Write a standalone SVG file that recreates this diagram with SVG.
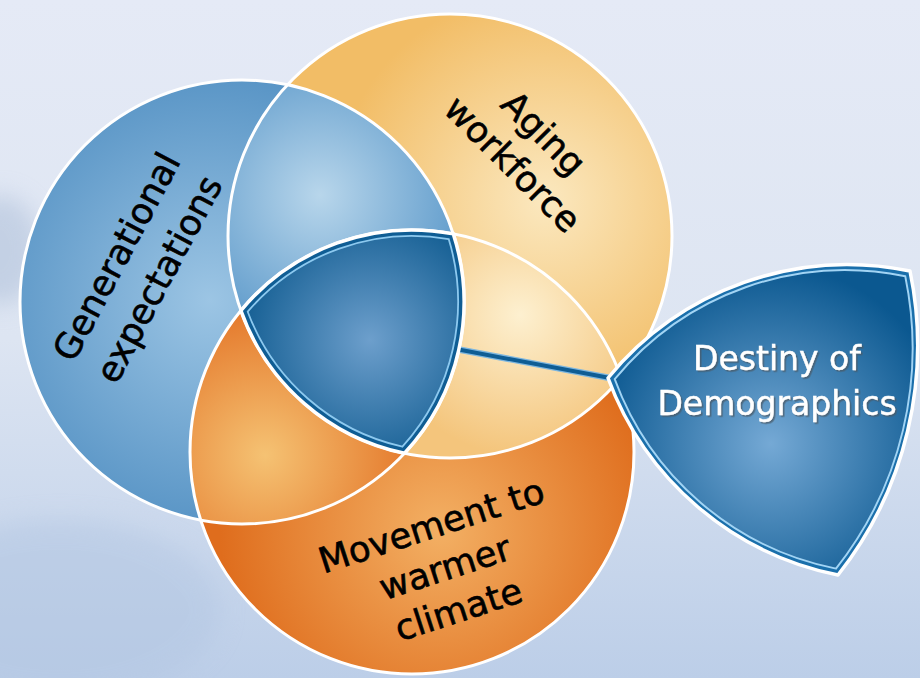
<svg xmlns="http://www.w3.org/2000/svg" width="920" height="678" viewBox="0 0 920 678">
  <style>
    .label { font-family: "DejaVu Sans", "Liberation Sans", sans-serif; font-size: 35.5px; fill: #000; stroke: #000; stroke-width: 0.6; text-anchor: middle; }
    .title { font-family: "DejaVu Sans", "Liberation Sans", sans-serif; font-size: 33px; fill: #fff; stroke: #fff; stroke-width: 0.4; text-anchor: middle; }
    .ring { fill: none; stroke: #ffffff; stroke-width: 3; }
  </style>
  <defs>
    <linearGradient id="bg" x1="0" y1="0" x2="0" y2="1">
      <stop offset="0" stop-color="#e5eaf6"/>
      <stop offset="0.5" stop-color="#dde5f2"/>
      <stop offset="1" stop-color="#bccee8"/>
    </linearGradient>
    <radialGradient id="gBlue" gradientUnits="userSpaceOnUse" cx="210" cy="300" r="240">
      <stop offset="0" stop-color="#9cc5e4"/>
      <stop offset="1" stop-color="#5592c4"/>
    </radialGradient>
    <radialGradient id="gYellow" gradientUnits="userSpaceOnUse" cx="545" cy="200" r="210">
      <stop offset="0" stop-color="#fbe8bf"/>
      <stop offset="1" stop-color="#f2bd66"/>
    </radialGradient>
    <radialGradient id="gOrange" gradientUnits="userSpaceOnUse" cx="440" cy="530" r="220">
      <stop offset="0" stop-color="#f3b064"/>
      <stop offset="1" stop-color="#df6d1d"/>
    </radialGradient>
    <radialGradient id="gBY" gradientUnits="userSpaceOnUse" cx="320" cy="195" r="150">
      <stop offset="0" stop-color="#b8d6eb"/>
      <stop offset="1" stop-color="#5f9bcb"/>
    </radialGradient>
    <radialGradient id="gYO" gradientUnits="userSpaceOnUse" cx="520" cy="315" r="140">
      <stop offset="0" stop-color="#fdf0d0"/>
      <stop offset="1" stop-color="#f4c57c"/>
    </radialGradient>
    <radialGradient id="gOB" gradientUnits="userSpaceOnUse" cx="265" cy="455" r="150">
      <stop offset="0" stop-color="#f5c273"/>
      <stop offset="1" stop-color="#e4772a"/>
    </radialGradient>
    <radialGradient id="gCore" gradientUnits="userSpaceOnUse" cx="370" cy="340" r="140">
      <stop offset="0" stop-color="#6d9fcc"/>
      <stop offset="1" stop-color="#0e5a8f"/>
    </radialGradient>
    <radialGradient id="gDestiny" gradientUnits="userSpaceOnUse" cx="770" cy="445" r="185">
      <stop offset="0" stop-color="#75a9d5"/>
      <stop offset="1" stop-color="#0b5890"/>
    </radialGradient>
    <clipPath id="clipBlue"><circle cx="242" cy="302" r="222"/></clipPath>
    <clipPath id="clipYellow"><circle cx="450" cy="236" r="222"/></clipPath>
    <clipPath id="clipOrange"><circle cx="412" cy="452" r="222"/></clipPath>
    <filter id="haze" x="-50%" y="-50%" width="200%" height="200%">
      <feGaussianBlur stdDeviation="12"/>
    </filter>
    <filter id="shade" x="-10%" y="-20%" width="120%" height="150%">
      <feDropShadow dx="1.6" dy="1.6" stdDeviation="0.6" flood-color="#4a5866" flood-opacity="0.75"/>
    </filter>
  </defs>

  <!-- sky backdrop -->
  <rect x="0" y="0" width="920" height="678" fill="url(#bg)"/>
  <ellipse cx="0" cy="250" rx="40" ry="55" fill="#a9bbd6" opacity="0.5" filter="url(#haze)"/>
  <ellipse cx="60" cy="610" rx="160" ry="90" fill="#b2c6e2" opacity="0.5" filter="url(#haze)"/>

  <!-- three overlapping circles -->
  <g id="circle-generational">
    <circle cx="242" cy="302" r="222" fill="url(#gBlue)"/>
  </g>
  <g id="circle-aging">
    <circle cx="450" cy="236" r="222" fill="url(#gYellow)"/>
  </g>
  <g id="circle-movement">
    <circle cx="412" cy="452" r="222" fill="url(#gOrange)"/>
  </g>

  <!-- pairwise overlaps -->
  <g id="overlaps">
    <g clip-path="url(#clipYellow)"><circle cx="242" cy="302" r="222" fill="url(#gBY)"/></g>
    <g clip-path="url(#clipOrange)"><circle cx="450" cy="236" r="222" fill="url(#gYO)"/></g>
    <g clip-path="url(#clipBlue)"><circle cx="412" cy="452" r="222" fill="url(#gOB)"/></g>
  </g>

  <!-- white outlines of the circles -->
  <g id="outlines">
    <circle class="ring" cx="242" cy="302" r="222"/>
    <circle class="ring" cx="450" cy="236" r="222"/>
    <circle class="ring" cx="412" cy="452" r="222"/>
  </g>

  <!-- circle labels -->
  <g transform="translate(138,268) rotate(-62)">
    <text class="label" x="0" y="-12">Generational</text>
    <text class="label" x="0" y="36">expectations</text>
  </g>
  <g transform="translate(528,149) rotate(45)">
    <text class="label" x="0" y="-10">Aging</text>
    <text class="label" x="0" y="34">workforce</text>
  </g>
  <g transform="translate(445,568) rotate(-18)">
    <text class="label" x="0" y="-32">Movement to</text>
    <text class="label" x="0" y="12">warmer</text>
    <text class="label" x="0" y="56">climate</text>
  </g>

  <!-- connector from the centre to the outcome -->
  <g id="connectors">
    <line x1="456" y1="349" x2="610" y2="378" stroke="#7db6df" stroke-width="6.5" stroke-linecap="round"/>
    <line x1="456" y1="349" x2="610" y2="378" stroke="#0f5d94" stroke-width="4" stroke-linecap="round"/>
  </g>

  <!-- shared centre of all three circles -->
  <g id="core">
    <path d="M240.9,310.6 A222,222 0 0 1 453.3,233.9 A222,222 0 0 1 404.5,453.3 A222,222 0 0 1 240.9,310.6 Z" fill="#0f5d94" stroke="#ffffff" stroke-width="3.5"/>
    <path d="M247.7,311.7 A216,216 0 0 1 448.7,239.1 A216,216 0 0 1 402.4,446.7 A216,216 0 0 1 247.7,311.7 Z" fill="url(#gCore)" stroke="#8dc9ef" stroke-width="1.8"/>
  </g>

  <!-- outcome shield -->
  <g id="destiny">
    <path d="M608,378 A310,310 0 0 1 910,271 A370,370 0 0 1 838,575 A310,310 0 0 1 608,378 Z" fill="#1a6fab" stroke="#ffffff" stroke-width="3.5" stroke-linejoin="round"/>
    <path transform="translate(785,408) scale(0.962) translate(-785,-408)" d="M608,378 A310,310 0 0 1 910,271 A370,370 0 0 1 838,575 A310,310 0 0 1 608,378 Z" fill="url(#gDestiny)" stroke="#a2d4f4" stroke-width="2"/>
    <g filter="url(#shade)">
      <text class="title" x="777" y="370">Destiny of</text>
      <text class="title" x="777" y="415">Demographics</text>
    </g>
  </g>
</svg>
